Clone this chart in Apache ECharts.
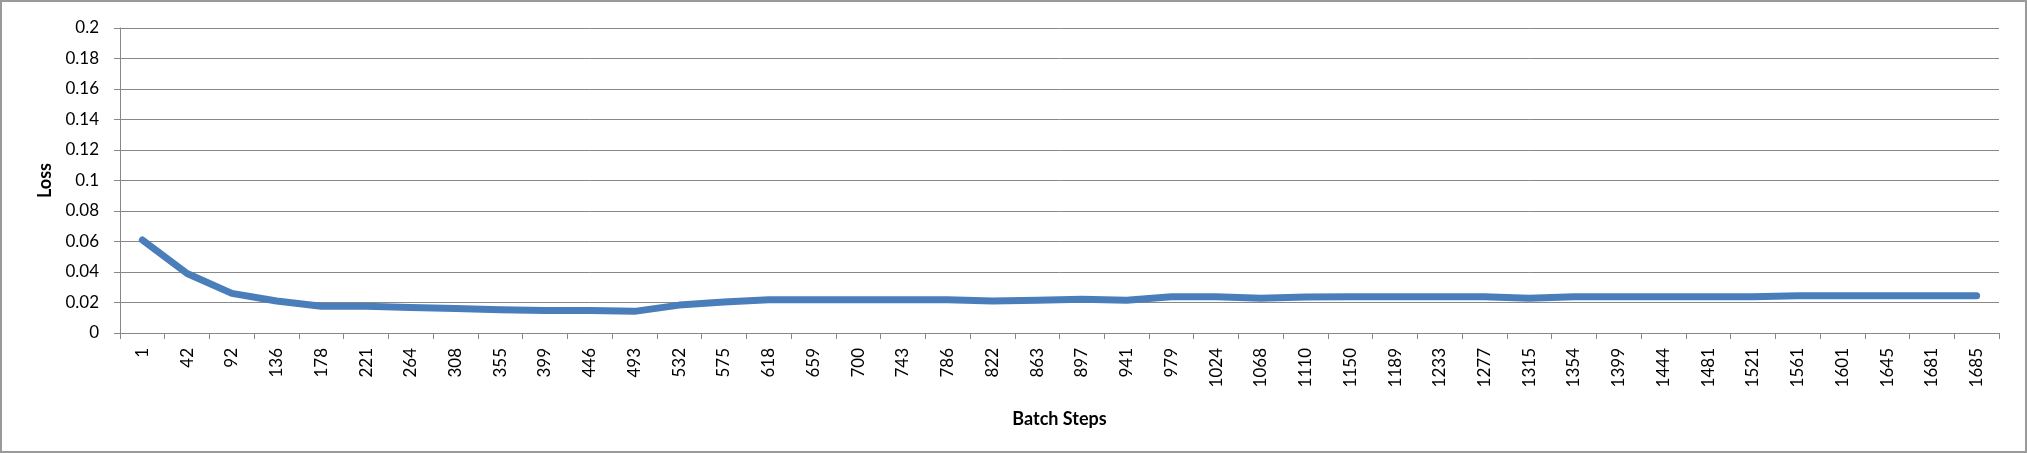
<!DOCTYPE html>
<html>
<head>
<meta charset="utf-8">
<script src="https://cdn.jsdelivr.net/npm/echarts@6/dist/echarts.min.js"></script>
<style>
  html, body { margin: 0; padding: 0; background: #fff; }
  #frame { position: absolute; left: 0; top: 0; width: 2023px; height: 449px; border: 2px solid #9a9a9a; }
  #chart { position: absolute; left: 0; top: 0; width: 2027px; height: 453px; }
</style>
</head>
<body>
<div id="frame"></div>
<div id="chart"></div>
<script>
const categories = ['1','42','92','136','178','221','264','308','355','399','446','493','532','575','618','659','700','743','786','822','863','897','941','979','1024','1068','1110','1150','1189','1233','1277','1315','1354','1399','1444','1481','1521','1561','1601','1645','1681','1685'];
const lossValues = [0.061,0.039,0.026,0.021,0.0175,0.0175,0.0167,0.016,0.0153,0.0147,0.0147,0.0142,0.0183,0.0203,0.0218,0.0218,0.0218,0.0218,0.0218,0.021,0.0215,0.0222,0.0215,0.0237,0.0237,0.0228,0.0236,0.0237,0.0237,0.0237,0.0237,0.0228,0.0237,0.0237,0.0237,0.0237,0.0237,0.0245,0.0245,0.0245,0.0245,0.0245];
const yAxisTitle = 'Loss';
const xAxisTitle = 'Batch Steps';

const font = 'Lato, "Open Sans", sans-serif';
const chart = echarts.init(document.getElementById('chart'), null, { renderer: 'canvas' });
chart.setOption({
  animation: false,
  grid: { left: 120, right: 28, top: 28, bottom: 120, containLabel: false },
  xAxis: {
    type: 'category',
    data: categories,
    boundaryGap: true,
    name: xAxisTitle,
    nameLocation: 'middle',
    nameGap: 77,
    nameTextStyle: { fontFamily: font, fontWeight: 'bold', fontSize: 18, color: '#000' },
    axisLine: { show: true, lineStyle: { color: '#888', width: 1 } },
    axisTick: { show: true, length: 6, alignWithLabel: false, interval: 0, lineStyle: { color: '#888' } },
    axisLabel: { interval: 0, rotate: 90, margin: 15, fontFamily: font, fontSize: 17, color: '#000' },
    splitLine: { show: false }
  },
  yAxis: {
    type: 'value',
    min: 0,
    max: 0.2,
    interval: 0.02,
    name: yAxisTitle,
    nameLocation: 'middle',
    nameGap: 66,
    nameRotate: 90,
    nameTextStyle: { fontFamily: font, fontWeight: 'bold', fontSize: 18, color: '#000' },
    axisLine: { show: true, lineStyle: { color: '#888', width: 1 } },
    axisTick: { show: true, length: 6, lineStyle: { color: '#888' } },
    axisLabel: { margin: 21, fontFamily: font, fontSize: 17, color: '#000' },
    splitLine: { show: true, lineStyle: { color: '#888', width: 1 } }
  },
  series: [{
    type: 'line',
    data: lossValues,
    showSymbol: false,
    smooth: false,
    lineStyle: { color: '#4a7ebb', width: 7, cap: 'round', join: 'round' },
    itemStyle: { color: '#4a7ebb' }
  }]
});
</script>
</body>
</html>
